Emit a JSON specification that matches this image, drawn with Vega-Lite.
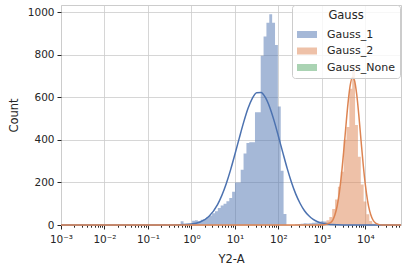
{
  "$schema": "https://vega.github.io/schema/vega-lite/v6.json",
  "width": 340,
  "height": 220,
  "autosize": {"type": "none"},
  "padding": {"left": 61, "top": 5, "right": 4, "bottom": 45},
  "background": "white",
  "config": {
    "font": "DejaVu Sans",
    "view": {"stroke": "#cccccc", "strokeWidth": 1},
    "axis": {
      "labelFont": "DejaVu Sans",
      "labelFontSize": 10.5,
      "labelColor": "#262626",
      "titleFont": "DejaVu Sans",
      "titleFontSize": 11.5,
      "titleFontWeight": "normal",
      "titleColor": "#262626",
      "tickColor": "#262626",
      "tickWidth": 1,
      "domain": false,
      "gridColor": "#cccccc",
      "gridWidth": 0.8
    },
    "legend": {
      "labelFont": "DejaVu Sans",
      "titleFont": "DejaVu Sans"
    }
  },
  "datasets": {
    "hist": [
      {"g": "Gauss_1", "lo": 0.2278, "n": 4},
      {"g": "Gauss_1", "lo": 0.2650, "n": 0},
      {"g": "Gauss_1", "lo": 0.5651, "n": 18},
      {"g": "Gauss_1", "lo": 0.6574, "n": 0},
      {"g": "Gauss_1", "lo": 1.0354, "n": 20},
      {"g": "Gauss_1", "lo": 1.2045, "n": 22},
      {"g": "Gauss_1", "lo": 1.4014, "n": 18},
      {"g": "Gauss_1", "lo": 1.6311, "n": 25},
      {"g": "Gauss_1", "lo": 1.8971, "n": 28},
      {"g": "Gauss_1", "lo": 2.2077, "n": 36},
      {"g": "Gauss_1", "lo": 2.5675, "n": 45},
      {"g": "Gauss_1", "lo": 2.9879, "n": 55},
      {"g": "Gauss_1", "lo": 3.4760, "n": 65},
      {"g": "Gauss_1", "lo": 4.0450, "n": 80},
      {"g": "Gauss_1", "lo": 4.7054, "n": 92},
      {"g": "Gauss_1", "lo": 5.4765, "n": 100},
      {"g": "Gauss_1", "lo": 6.3709, "n": 112},
      {"g": "Gauss_1", "lo": 7.4145, "n": 127},
      {"g": "Gauss_1", "lo": 8.6254, "n": 156},
      {"g": "Gauss_1", "lo": 10.032, "n": 200},
      {"g": "Gauss_1", "lo": 11.671, "n": 200},
      {"g": "Gauss_1", "lo": 13.582, "n": 259},
      {"g": "Gauss_1", "lo": 15.798, "n": 336},
      {"g": "Gauss_1", "lo": 18.385, "n": 385},
      {"g": "Gauss_1", "lo": 21.383, "n": 388},
      {"g": "Gauss_1", "lo": 24.884, "n": 388},
      {"g": "Gauss_1", "lo": 28.944, "n": 530},
      {"g": "Gauss_1", "lo": 33.688, "n": 530},
      {"g": "Gauss_1", "lo": 39.185, "n": 795},
      {"g": "Gauss_1", "lo": 45.603, "n": 885},
      {"g": "Gauss_1", "lo": 53.043, "n": 950},
      {"g": "Gauss_1", "lo": 61.730, "n": 990},
      {"g": "Gauss_1", "lo": 71.802, "n": 950},
      {"g": "Gauss_1", "lo": 83.561, "n": 845},
      {"g": "Gauss_1", "lo": 97.185, "n": 557},
      {"g": "Gauss_1", "lo": 113.10, "n": 255},
      {"g": "Gauss_1", "lo": 131.55, "n": 52},
      {"g": "Gauss_1", "lo": 153.10, "n": 0},
      {"g": "Gauss_1", "lo": 241.0, "n": 3},
      {"g": "Gauss_1", "lo": 280.5, "n": 5},
      {"g": "Gauss_1", "lo": 326.3, "n": 6},
      {"g": "Gauss_1", "lo": 379.7, "n": 8},
      {"g": "Gauss_1", "lo": 441.7, "n": 7},
      {"g": "Gauss_1", "lo": 514.0, "n": 8},
      {"g": "Gauss_1", "lo": 597.9, "n": 10},
      {"g": "Gauss_1", "lo": 695.8, "n": 12},
      {"g": "Gauss_1", "lo": 809.3, "n": 15},
      {"g": "Gauss_1", "lo": 941.8, "n": 18},
      {"g": "Gauss_1", "lo": 1095.5, "n": 16},
      {"g": "Gauss_1", "lo": 1274.9, "n": 10},
      {"g": "Gauss_1", "lo": 1483.0, "n": 0},
      {"g": "Gauss_2", "lo": 809.3, "n": 3},
      {"g": "Gauss_2", "lo": 941.8, "n": 6},
      {"g": "Gauss_2", "lo": 1095.5, "n": 12},
      {"g": "Gauss_2", "lo": 1274.9, "n": 22},
      {"g": "Gauss_2", "lo": 1483.0, "n": 38},
      {"g": "Gauss_2", "lo": 1725.8, "n": 75},
      {"g": "Gauss_2", "lo": 2007.5, "n": 120},
      {"g": "Gauss_2", "lo": 2336.1, "n": 180},
      {"g": "Gauss_2", "lo": 2717.6, "n": 250},
      {"g": "Gauss_2", "lo": 3162.6, "n": 400},
      {"g": "Gauss_2", "lo": 3678.8, "n": 460},
      {"g": "Gauss_2", "lo": 4281.0, "n": 640},
      {"g": "Gauss_2", "lo": 4979.8, "n": 750},
      {"g": "Gauss_2", "lo": 5795.3, "n": 470},
      {"g": "Gauss_2", "lo": 6741.0, "n": 320},
      {"g": "Gauss_2", "lo": 7844.6, "n": 190},
      {"g": "Gauss_2", "lo": 9123.5, "n": 110},
      {"g": "Gauss_2", "lo": 10615, "n": 50},
      {"g": "Gauss_2", "lo": 12351, "n": 19},
      {"g": "Gauss_2", "lo": 14370, "n": 6},
      {"g": "Gauss_2", "lo": 16714, "n": 2},
      {"g": "Gauss_2", "lo": 19450, "n": 0}
    ],
    "kde": [
      {"g": "Gauss_1", "x": 0.001, "y": 0},
      {"g": "Gauss_1", "x": 0.1, "y": 0},
      {"g": "Gauss_1", "x": 0.3162, "y": 0.1},
      {"g": "Gauss_1", "x": 1, "y": 4.4},
      {"g": "Gauss_1", "x": 1.585, "y": 14},
      {"g": "Gauss_1", "x": 2.512, "y": 40},
      {"g": "Gauss_1", "x": 3.981, "y": 96},
      {"g": "Gauss_1", "x": 6.310, "y": 194},
      {"g": "Gauss_1", "x": 7.943, "y": 259},
      {"g": "Gauss_1", "x": 10, "y": 332},
      {"g": "Gauss_1", "x": 12.59, "y": 408},
      {"g": "Gauss_1", "x": 15.85, "y": 482},
      {"g": "Gauss_1", "x": 19.95, "y": 547},
      {"g": "Gauss_1", "x": 25.12, "y": 595},
      {"g": "Gauss_1", "x": 31.62, "y": 621},
      {"g": "Gauss_1", "x": 39.81, "y": 622},
      {"g": "Gauss_1", "x": 50.12, "y": 599},
      {"g": "Gauss_1", "x": 63.10, "y": 553},
      {"g": "Gauss_1", "x": 79.43, "y": 490},
      {"g": "Gauss_1", "x": 100, "y": 417},
      {"g": "Gauss_1", "x": 125.9, "y": 341},
      {"g": "Gauss_1", "x": 158.5, "y": 267},
      {"g": "Gauss_1", "x": 199.5, "y": 201},
      {"g": "Gauss_1", "x": 251.2, "y": 145},
      {"g": "Gauss_1", "x": 316.2, "y": 101},
      {"g": "Gauss_1", "x": 398.1, "y": 67},
      {"g": "Gauss_1", "x": 501.2, "y": 43},
      {"g": "Gauss_1", "x": 631.0, "y": 26},
      {"g": "Gauss_1", "x": 794.3, "y": 15.5},
      {"g": "Gauss_1", "x": 1000, "y": 8.7},
      {"g": "Gauss_1", "x": 1585, "y": 2.4},
      {"g": "Gauss_1", "x": 3162, "y": 0.2},
      {"g": "Gauss_1", "x": 10000, "y": 0},
      {"g": "Gauss_1", "x": 66000, "y": 0},
      {"g": "Gauss_2", "x": 0.001, "y": 0},
      {"g": "Gauss_2", "x": 316.2, "y": 0},
      {"g": "Gauss_2", "x": 1000, "y": 0.2},
      {"g": "Gauss_2", "x": 1585, "y": 11},
      {"g": "Gauss_2", "x": 1995, "y": 48},
      {"g": "Gauss_2", "x": 2239, "y": 88},
      {"g": "Gauss_2", "x": 2512, "y": 150},
      {"g": "Gauss_2", "x": 2818, "y": 235},
      {"g": "Gauss_2", "x": 3162, "y": 342},
      {"g": "Gauss_2", "x": 3548, "y": 459},
      {"g": "Gauss_2", "x": 3981, "y": 570},
      {"g": "Gauss_2", "x": 4467, "y": 654},
      {"g": "Gauss_2", "x": 5012, "y": 693},
      {"g": "Gauss_2", "x": 5623, "y": 679},
      {"g": "Gauss_2", "x": 6310, "y": 615},
      {"g": "Gauss_2", "x": 7079, "y": 515},
      {"g": "Gauss_2", "x": 7943, "y": 398},
      {"g": "Gauss_2", "x": 8913, "y": 284},
      {"g": "Gauss_2", "x": 10000, "y": 188},
      {"g": "Gauss_2", "x": 11220, "y": 115},
      {"g": "Gauss_2", "x": 12589, "y": 65},
      {"g": "Gauss_2", "x": 14125, "y": 34},
      {"g": "Gauss_2", "x": 15849, "y": 16},
      {"g": "Gauss_2", "x": 19953, "y": 3},
      {"g": "Gauss_2", "x": 25119, "y": 0.3},
      {"g": "Gauss_2", "x": 66000, "y": 0}
    ]
  },
  "layer": [
    {
      "data": {"name": "hist"},
      "mark": {"type": "area", "opacity": 0.5, "interpolate": "step-after"},
      "encoding": {
        "x": {
          "field": "lo",
          "type": "quantitative",
          "scale": {"type": "log", "domain": [0.001, 66000], "nice": false},
          "title": "Y2-A",
          "axis": {
            "values": [0.001, 0.002, 0.003, 0.004, 0.005, 0.006, 0.007, 0.008, 0.009,
                       0.01, 0.02, 0.03, 0.04, 0.05, 0.06, 0.07, 0.08, 0.09,
                       0.1, 0.2, 0.3, 0.4, 0.5, 0.6, 0.7, 0.8, 0.9,
                       1, 2, 3, 4, 5, 6, 7, 8, 9,
                       10, 20, 30, 40, 50, 60, 70, 80, 90,
                       100, 200, 300, 400, 500, 600, 700, 800, 900,
                       1000, 2000, 3000, 4000, 5000, 6000, 7000, 8000, 9000,
                       10000, 20000, 30000, 40000, 50000, 60000],
            "labelExpr": "datum.value == 0.001 ? '10⁻³' : datum.value == 0.01 ? '10⁻²' : datum.value == 0.1 ? '10⁻¹' : datum.value == 1 ? '10⁰' : datum.value == 10 ? '10¹' : datum.value == 100 ? '10²' : datum.value == 1000 ? '10³' : datum.value == 10000 ? '10⁴' : ''",
            "labelFlush": false,
            "labelOverlap": false,
            "labelPadding": 5,
            "titlePadding": 9,
            "tickSize": {"condition": {"test": "indexof([0.001, 0.01, 0.1, 1, 10, 100, 1000, 10000], datum.value) >= 0", "value": 4}, "value": 2.2},
            "gridOpacity": {"condition": {"test": "indexof([0.001, 0.01, 0.1, 1, 10, 100, 1000, 10000], datum.value) >= 0", "value": 1}, "value": 0}
          }
        },
        "y": {
          "field": "n",
          "type": "quantitative",
          "stack": null,
          "scale": {"domain": [0, 1033], "nice": false},
          "title": "Count",
          "axis": {"values": [0, 200, 400, 600, 800, 1000], "format": "d", "tickSize": 4, "labelPadding": 3, "titlePadding": 8}
        },
        "color": {
          "field": "g",
          "type": "nominal",
          "scale": {"domain": ["Gauss_1", "Gauss_2", "Gauss_None"], "range": ["#4c72b0", "#dd8452", "#55a868"]},
          "legend": {
            "title": "Gauss",
            "orient": "none",
            "legendX": 231,
            "legendY": 0,
            "titleFontSize": 11.5,
            "titleFontWeight": "normal",
            "titleColor": "#262626",
            "titleAnchor": "middle",
            "titleAlign": "center",
            "titlePadding": 3,
            "labelFontSize": 11,
            "labelColor": "#262626",
            "labelOffset": 10,
            "symbolType": "M-1,-0.35H1V0.35H-1Z",
            "symbolSize": 400,
            "symbolOpacity": 0.5,
            "symbolStrokeWidth": 0,
            "rowPadding": 1.5,
            "padding": 5,
            "fillColor": "rgba(255,255,255,0.8)",
            "strokeColor": "#cccccc",
            "cornerRadius": 3
          }
        }
      }
    },
    {
      "data": {"name": "kde"},
      "mark": {"type": "line", "strokeWidth": 1.5, "interpolate": "monotone"},
      "encoding": {
        "x": {"field": "x", "type": "quantitative"},
        "y": {"field": "y", "type": "quantitative"},
        "stroke": {
          "field": "g",
          "type": "nominal",
          "scale": {"domain": ["Gauss_1", "Gauss_2", "Gauss_None"], "range": ["#4c72b0", "#dd8452", "#55a868"]},
          "legend": null
        }
      }
    }
  ]
}
